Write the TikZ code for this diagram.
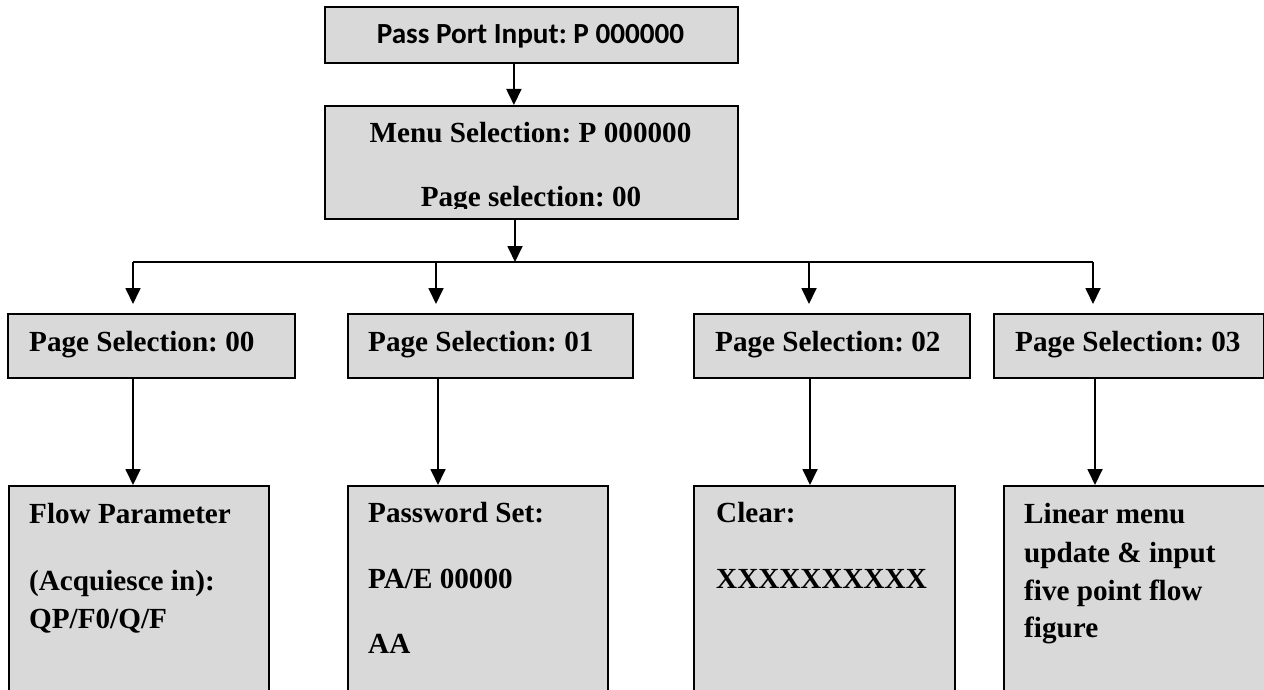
\documentclass[tikz,border=0pt]{standalone}
\usepackage{fontspec}
\setmainfont{Liberation Serif}
\newfontfamily\calfont{Carlito}
\usetikzlibrary{arrows.meta}
\definecolor{boxgray}{HTML}{D9D9D9}
\frenchspacing
\tikzset{
  box/.style={draw=black, fill=boxgray, line width=1.8pt, inner sep=0pt, anchor=north west},
  txt/.style={inner sep=0pt, anchor=base west, font=\fontsize{29.17}{35}\selectfont\bfseries},
  ctxt/.style={txt, anchor=base},
  ln/.style={line width=1.8pt},
  arr/.style={line width=1.8pt, -{Triangle[width=15pt,length=16pt]}}
}
\begin{document}
\begin{tikzpicture}[x=1pt,y=-1pt]
\useasboundingbox (0,0) rectangle (1264,690);
\clip (0,0) rectangle (1264,690);
% top boxes
\node[box, minimum width=413pt, minimum height=56pt] (pp) at (324,6) {};
\node[ctxt, font=\fontsize{29.17}{35}\calfont\bfseries] (pptxt) at (530.5,44) {Pass Port Input: P 000000};
\node[box, minimum width=413pt, minimum height=113pt] (menu) at (324,105) {};
\node[ctxt] (menutxt) at (530.5,143) {Menu Selection: P 000000};
\begin{scope}
  \clip (324,105) rectangle (737,208);
  \node[ctxt] (menutxt2) at (531,207) {Page selection: 00};
\end{scope}
% second row
\node[box, minimum width=287pt, minimum height=64pt] (ps0) at (7,313) {};
\node[box, minimum width=285pt, minimum height=64pt] (ps1) at (347,313) {};
\node[box, minimum width=276pt, minimum height=64pt] (ps2) at (693,313) {};
\node[box, minimum width=270pt, minimum height=64pt] (ps3) at (993,313) {};
\node[txt] (ps0t) at (29,351) {Page Selection: 00};
\node[txt] (ps1t) at (368,351) {Page Selection: 01};
\node[txt] (ps2t) at (715,351) {Page Selection: 02};
\node[txt] (ps3t) at (1015,351) {Page Selection: 03};
% third row
\node[box, minimum width=260pt, minimum height=230pt] (b0) at (8,485) {};
\node[box, minimum width=260pt, minimum height=230pt] (b1) at (347,485) {};
\node[box, minimum width=261pt, minimum height=230pt] (b2) at (693,485) {};
\node[box, minimum width=263pt, minimum height=230pt] (b3) at (1003,485) {};
\node[txt] (b0a) at (29,523) {Flow Parameter};
\node[txt] (b0b) at (29,590) {(Acquiesce in):};
\node[txt] (b0c) at (29,628) {QP/F0/Q/F};
\node[txt] (b1a) at (368,522) {Password Set:};
\node[txt] (b1b) at (368,588) {PA/E 00000};
\node[txt] (b1c) at (368,653) {AA};
\node[txt] (b2a) at (716,522) {Clear:};
\node[txt] (b2b) at (716,588) {XXXXXXXXXX};
\node[txt] (b3a) at (1024,523) {Linear menu};
\node[txt] (b3b) at (1024,562) {update \& input};
\node[txt] (b3c) at (1024,600) {five point flow};
\node[txt] (b3d) at (1024,637) {figure};
% connectors
\coordinate (j) at (515,262);
\coordinate (h0) at (133,262);
\coordinate (h1) at (436,262);
\coordinate (h2) at (809,262);
\coordinate (h3) at (1093,262);
\draw[arr] ([xshift=-17.5pt]pp.south) -- ([xshift=-17.5pt]menu.north);
\draw[arr] (j |- menu.south) -- (j);
\draw[ln] (h0) -- (h3);
\draw[arr, shorten >=9pt] (h0) -- (h0 |- ps0.north);
\draw[arr, shorten >=9pt] (h1) -- (h1 |- ps1.north);
\draw[arr, shorten >=9pt] (h2) -- (h2 |- ps2.north);
\draw[arr, shorten >=9pt] (h3) -- (h3 |- ps3.north);
\draw[arr] (h0 |- ps0.south) -- (h0 |- b0.north);
\draw[arr] ([xshift=2pt]h1 |- ps1.south) -- ([xshift=2pt]h1 |- b1.north);
\draw[arr] ([xshift=1pt]h2 |- ps2.south) -- ([xshift=1pt]h2 |- b2.north);
\draw[arr] ([xshift=2pt]h3 |- ps3.south) -- ([xshift=2pt]h3 |- b3.north);
\end{tikzpicture}
\end{document}
